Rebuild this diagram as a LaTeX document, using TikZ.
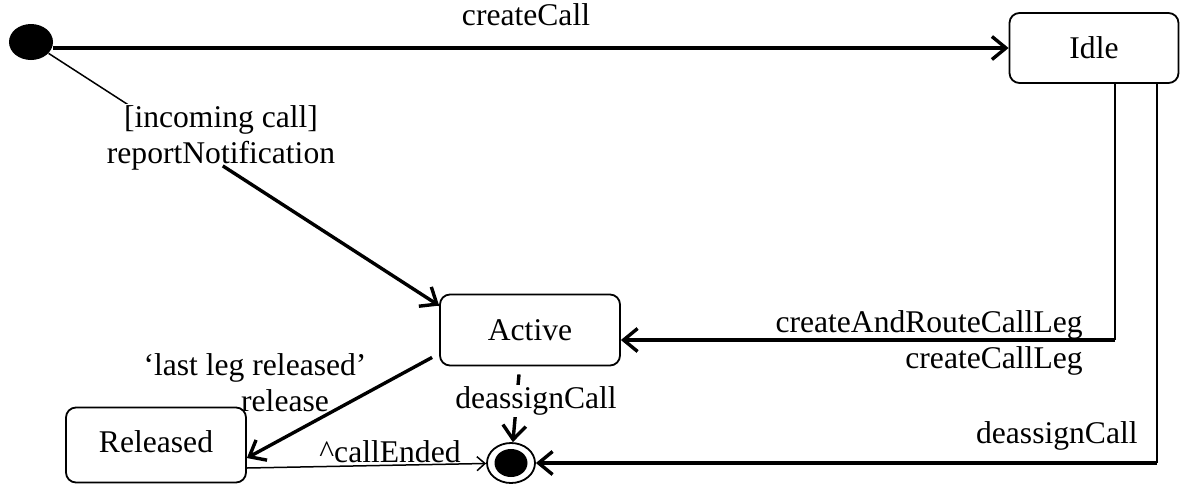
\documentclass[tikz,border=0pt]{standalone}
\usepackage{fontspec}
\setmainfont{Liberation Serif}
\usetikzlibrary{calc}
\usetikzlibrary{arrows.meta}
\usetikzlibrary{positioning}
\usetikzlibrary{shapes.geometric}
\tikzstyle{state} = [rectangle, rounded corners = 5pt, draw = black, line width = 0.9pt, inner sep = 0pt]
\tikzstyle{trans} = [-{Straight Barb[length = 7pt, width = 11.5pt]}, line width = 1.7pt]
\tikzstyle{tline} = [-, line width = 0.75pt]
\tikzstyle{lbl} = [inner sep = 1pt, align = center]

\begin{document}
\begin{tikzpicture}[x = 0.5pt, y = -0.5pt, font = \fontsize{15.8}{18}\selectfont]
 \useasboundingbox (0, 0) rectangle (1188, 488);
 % states
 \node [ellipse, fill = black, minimum width = 22pt, minimum height = 18pt, inner sep = 0pt] (S0) at (31, 42) {};
 \node [state, minimum width = 84.5pt, minimum height = 35pt] (Idle) at (1094, 48) {Idle};
 \node [state, minimum width = 90pt, minimum height = 35.5pt] (Act) at (530, 330) {Active};
 \node [state, minimum width = 90pt, minimum height = 37.5pt] (Rel) at (156, 445) {\raisebox{3pt}{Released}};
 \node [ellipse, draw = black, fill = white, line width = 0.9pt, inner sep = 0pt, minimum width = 24pt, minimum height = 20pt] (Fin) at (511, 463) {};
 \node [ellipse, fill = black, inner sep = 0pt, minimum width = 16.5pt, minimum height = 14pt] (FinDot) at (Fin) {};
 % bends of the two transitions leaving Idle
 \coordinate (B1) at (1115, 340);
 \coordinate (B2) at (1157, 463);

 \draw [trans] (S0.east |- Idle) to (Idle.west);
 \node [lbl, anchor = base] (cc) at (526, 25) {createCall};

 \draw [tline] (S0) to ([yshift = -6pt]Act.north west);
 \node [lbl, fill = white] (guard) at (221, 138) {[incoming call]\\reportNotification};
 \draw [trans] ($(S0)!0.47!([yshift = -6pt]Act.north west)$) to ([yshift = -6pt]Act.north west);

 \draw [trans] ([xshift = -3.5pt, yshift = 4.5pt]Act.south west) to ([yshift = -6.5pt]Rel.east);
 \node [lbl] (last) at (255, 383) {‘last leg released’\\\hspace*{1.9em}release};

 \draw [trans] ([xshift = -5.5pt, yshift = -4pt]Act.south) to (Fin);
 \node [lbl, fill = white] (dc) at (536, 401) {deassignCall};

 \draw [tline, -{Straight Barb[length = 4pt, width = 7pt]}] ([yshift = -11.5pt]Rel.east) to (Fin);
 \node [lbl, anchor = base] (ce) at (390, 462) {\textasciicircum callEnded};

 \draw [tline] (B1 |- Idle.south) to (B1);
 \draw [trans] (B1) to (B1 -| Act.east);
 \node [lbl, anchor = base east] (cr) at (1085, 332) {createAndRouteCallLeg};
 \node [lbl, anchor = base east] (cl) at (1085, 368) {createCallLeg};

 \draw [tline] (B2 |- Idle.south) to (B2);
 \draw [trans] (B2) to (Fin);
 \node [lbl, anchor = base east] (dc2) at (1140, 443) {deassignCall};
\end{tikzpicture}
\end{document}
